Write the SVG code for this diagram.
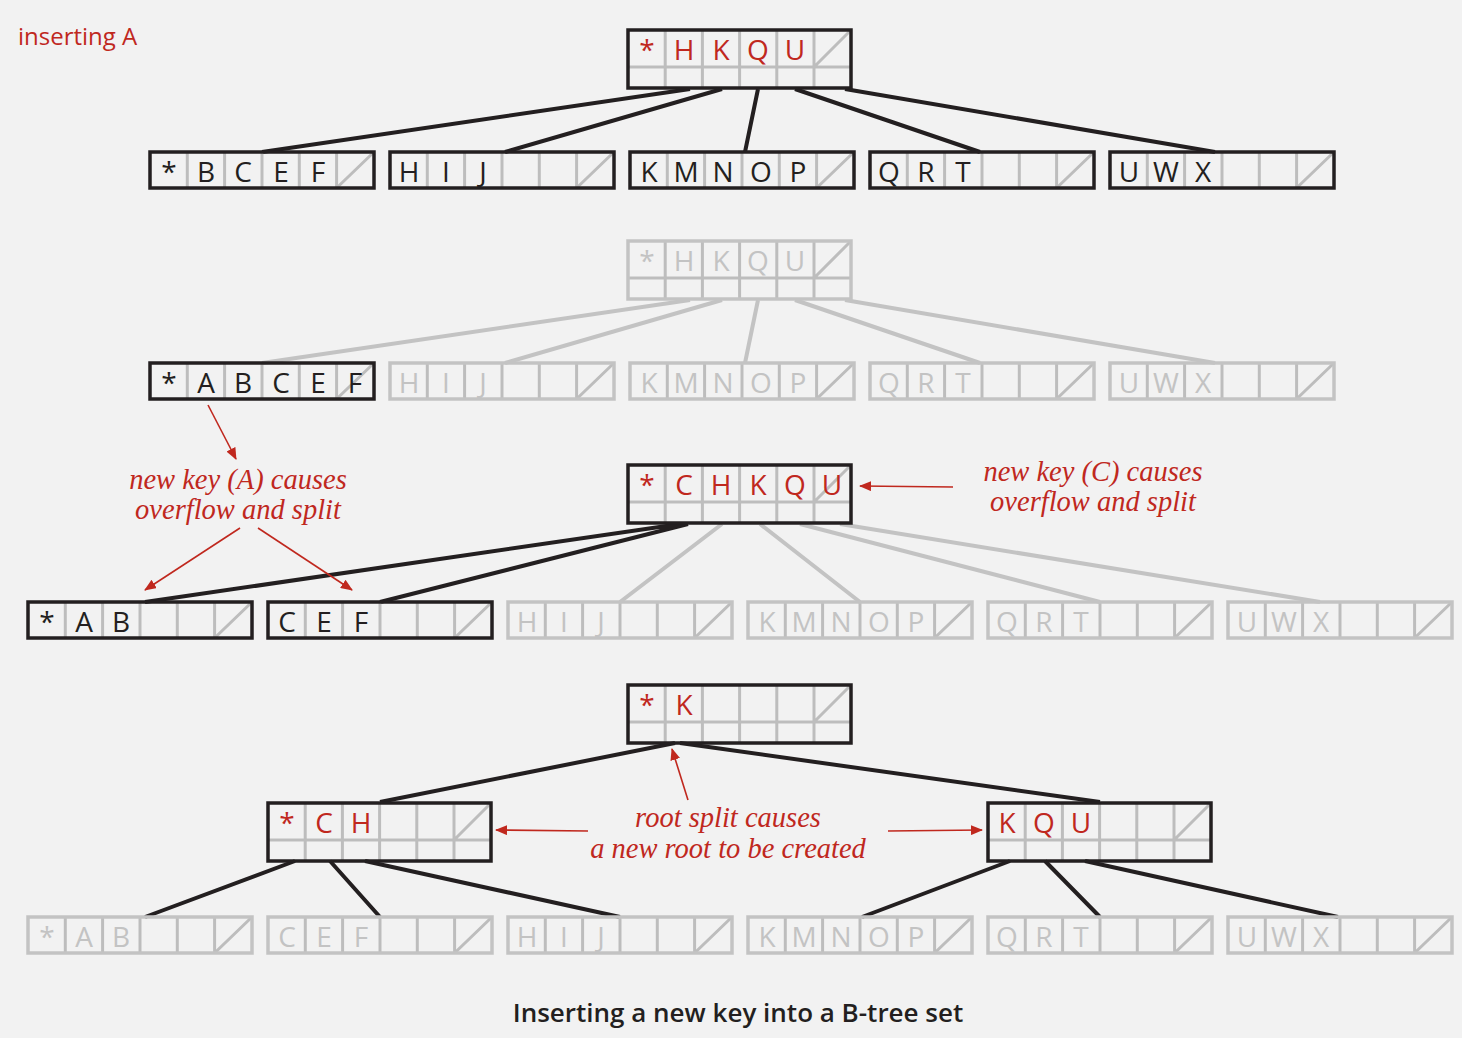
<svg xmlns="http://www.w3.org/2000/svg" xmlns:xlink="http://www.w3.org/1999/xlink" width="1462" height="1038" viewBox="0 0 1462 1038">
<style>
.bg{fill:#f2f2f2}
.k{font-family:"Open Sans","Liberation Sans",sans-serif;font-size:28px;text-anchor:middle}
.kb{fill:#231f20}.kr{fill:#c0281e}.kg{fill:#c3c3c3}
.note{font-family:"Liberation Serif",serif;font-style:italic;font-size:28.5px;fill:#c0281e;text-anchor:middle}
.dark{color:#231f20}.gray{color:#c3c3c3}
.cb{stroke:#231f20;stroke-width:4;fill:none}
.cg{stroke:#c3c3c3;stroke-width:4;fill:none}
.ar{stroke:#c0281e;stroke-width:1.6;fill:none;marker-end:url(#ah)}
</style>
<defs>
<marker id="ah" markerWidth="12" markerHeight="10" refX="11" refY="5" orient="auto" markerUnits="userSpaceOnUse"><path d="M0,0 L12,5 L0,10 Z" fill="#c0281e"/></marker>
<g id="leaf">
<path d="M37.3,0V36M74.6,0V36M112,0V36M149.3,0V36M186.6,0V36M186.6,36L224,0" stroke="#bdbdbd" stroke-width="3" fill="none"/>
<rect x="0" y="0" width="224" height="36" fill="none" stroke="currentColor" stroke-width="3.5"/>
</g>
<g id="inode">
<path d="M37.2,0V58M74.4,0V58M111.6,0V58M148.8,0V58M186,0V58M0,37H223M186,37L223,0" stroke="#bdbdbd" stroke-width="3" fill="none"/>
<rect x="0" y="0" width="223" height="58" fill="none" stroke="currentColor" stroke-width="3.5"/>
</g>
</defs>
<rect class="bg" x="0" y="0" width="1462" height="1038"/>
<text x="18" y="45" font-family="Open Sans,Liberation Sans,sans-serif" font-size="24" fill="#c0281e">inserting A</text>

<g id="connectors">
<path class="cb" d="M690,89L262,152M722,89L505,152M758,89L745,152M795,89L980,152M845,89L1215,152"/>
<path class="cg" d="M690,300L262,363M722,300L505,363M758,300L745,363M795,300L980,363M845,300L1215,363"/>
<path class="cb" d="M680,524L145,602M688,524L380,602"/>
<path class="cg" d="M722,524L620,602M760,524L860,602M800,524L1100,602M840,524L1320,602"/>
<path class="cb" d="M675,743L380,802M680,743L1100,802"/>
<path class="cb" d="M295,861L145,917M330,861L380,917M365,861L620,917M1010,861L862,917M1045,861L1100,917M1085,861L1338,917"/>
<path class="ar" d="M208,405L236,459"/>
<path class="ar" d="M240,528L145,590"/>
<path class="ar" d="M258,528L352,590"/>
<path class="ar" d="M953,487L860,486"/>
<path class="ar" d="M688,800L672,749"/>
<path class="ar" d="M588,831L496,830"/>
<path class="ar" d="M888,831L982,830"/>
</g>

<g id="r1root"><use href="#inode" x="628" y="30" class="dark"/>
<text class="k kr" y="60"><tspan x="647">*</tspan><tspan x="684">H</tspan><tspan x="721">K</tspan><tspan x="758">Q</tspan><tspan x="795">U</tspan></text></g>
<g id="r1l1"><use href="#leaf" x="150" y="152" class="dark"/><text class="k kb" y="182"><tspan x="169">*</tspan><tspan x="206">B</tspan><tspan x="243">C</tspan><tspan x="281">E</tspan><tspan x="318">F</tspan></text></g>
<g id="r1l2"><use href="#leaf" x="390" y="152" class="dark"/><text class="k kb" y="182"><tspan x="409">H</tspan><tspan x="446">I</tspan><tspan x="483">J</tspan></text></g>
<g id="r1l3"><use href="#leaf" x="630" y="152" class="dark"/><text class="k kb" y="182"><tspan x="649">K</tspan><tspan x="686">M</tspan><tspan x="723">N</tspan><tspan x="761">O</tspan><tspan x="798">P</tspan></text></g>
<g id="r1l4"><use href="#leaf" x="870" y="152" class="dark"/><text class="k kb" y="182"><tspan x="889">Q</tspan><tspan x="926">R</tspan><tspan x="963">T</tspan></text></g>
<g id="r1l5"><use href="#leaf" x="1110" y="152" class="dark"/><text class="k kb" y="182"><tspan x="1129">U</tspan><tspan x="1166">W</tspan><tspan x="1203">X</tspan></text></g>

<g id="r2root"><use href="#inode" x="628" y="241" class="gray"/>
<text class="k kg" y="271"><tspan x="647">*</tspan><tspan x="684">H</tspan><tspan x="721">K</tspan><tspan x="758">Q</tspan><tspan x="795">U</tspan></text></g>
<g id="r2l1"><use href="#leaf" x="150" y="363" class="dark"/><text class="k kb" y="393"><tspan x="169">*</tspan><tspan x="206">A</tspan><tspan x="243">B</tspan><tspan x="281">C</tspan><tspan x="318">E</tspan><tspan x="355">F</tspan></text></g>
<g id="r2l2"><use href="#leaf" x="390" y="363" class="gray"/><text class="k kg" y="393"><tspan x="409">H</tspan><tspan x="446">I</tspan><tspan x="483">J</tspan></text></g>
<g id="r2l3"><use href="#leaf" x="630" y="363" class="gray"/><text class="k kg" y="393"><tspan x="649">K</tspan><tspan x="686">M</tspan><tspan x="723">N</tspan><tspan x="761">O</tspan><tspan x="798">P</tspan></text></g>
<g id="r2l4"><use href="#leaf" x="870" y="363" class="gray"/><text class="k kg" y="393"><tspan x="889">Q</tspan><tspan x="926">R</tspan><tspan x="963">T</tspan></text></g>
<g id="r2l5"><use href="#leaf" x="1110" y="363" class="gray"/><text class="k kg" y="393"><tspan x="1129">U</tspan><tspan x="1166">W</tspan><tspan x="1203">X</tspan></text></g>

<g id="r3root"><use href="#inode" x="628" y="465" class="dark"/>
<text class="k kr" y="495"><tspan x="647">*</tspan><tspan x="684">C</tspan><tspan x="721">H</tspan><tspan x="758">K</tspan><tspan x="795">Q</tspan><tspan x="832">U</tspan></text></g>
<g id="r3l1"><use href="#leaf" x="28" y="602" class="dark"/><text class="k kb" y="632"><tspan x="47">*</tspan><tspan x="84">A</tspan><tspan x="121">B</tspan></text></g>
<g id="r3l2"><use href="#leaf" x="268" y="602" class="dark"/><text class="k kb" y="632"><tspan x="287">C</tspan><tspan x="324">E</tspan><tspan x="361">F</tspan></text></g>
<g id="r3l3"><use href="#leaf" x="508" y="602" class="gray"/><text class="k kg" y="632"><tspan x="527">H</tspan><tspan x="564">I</tspan><tspan x="601">J</tspan></text></g>
<g id="r3l4"><use href="#leaf" x="748" y="602" class="gray"/><text class="k kg" y="632"><tspan x="767">K</tspan><tspan x="804">M</tspan><tspan x="841">N</tspan><tspan x="879">O</tspan><tspan x="916">P</tspan></text></g>
<g id="r3l5"><use href="#leaf" x="988" y="602" class="gray"/><text class="k kg" y="632"><tspan x="1007">Q</tspan><tspan x="1044">R</tspan><tspan x="1081">T</tspan></text></g>
<g id="r3l6"><use href="#leaf" x="1228" y="602" class="gray"/><text class="k kg" y="632"><tspan x="1247">U</tspan><tspan x="1284">W</tspan><tspan x="1321">X</tspan></text></g>

<g id="r4root"><use href="#inode" x="628" y="685" class="dark"/>
<text class="k kr" y="715"><tspan x="647">*</tspan><tspan x="684">K</tspan></text></g>
<g id="r4n1"><use href="#inode" x="268" y="803" class="dark"/>
<text class="k kr" y="833"><tspan x="287">*</tspan><tspan x="324">C</tspan><tspan x="361">H</tspan></text></g>
<g id="r4n2"><use href="#inode" x="988" y="803" class="dark"/>
<text class="k kr" y="833"><tspan x="1007">K</tspan><tspan x="1044">Q</tspan><tspan x="1081">U</tspan></text></g>
<g id="r4l1"><use href="#leaf" x="28" y="917" class="gray"/><text class="k kg" y="947"><tspan x="47">*</tspan><tspan x="84">A</tspan><tspan x="121">B</tspan></text></g>
<g id="r4l2"><use href="#leaf" x="268" y="917" class="gray"/><text class="k kg" y="947"><tspan x="287">C</tspan><tspan x="324">E</tspan><tspan x="361">F</tspan></text></g>
<g id="r4l3"><use href="#leaf" x="508" y="917" class="gray"/><text class="k kg" y="947"><tspan x="527">H</tspan><tspan x="564">I</tspan><tspan x="601">J</tspan></text></g>
<g id="r4l4"><use href="#leaf" x="748" y="917" class="gray"/><text class="k kg" y="947"><tspan x="767">K</tspan><tspan x="804">M</tspan><tspan x="841">N</tspan><tspan x="879">O</tspan><tspan x="916">P</tspan></text></g>
<g id="r4l5"><use href="#leaf" x="988" y="917" class="gray"/><text class="k kg" y="947"><tspan x="1007">Q</tspan><tspan x="1044">R</tspan><tspan x="1081">T</tspan></text></g>
<g id="r4l6"><use href="#leaf" x="1228" y="917" class="gray"/><text class="k kg" y="947"><tspan x="1247">U</tspan><tspan x="1284">W</tspan><tspan x="1321">X</tspan></text></g>

<text class="note" x="238" y="489">new key (A) causes</text>
<text class="note" x="238" y="519">overflow and split</text>
<text class="note" x="1093" y="481">new key (C) causes</text>
<text class="note" x="1093" y="511">overflow and split</text>
<text class="note" x="728" y="827">root split causes</text>
<text class="note" x="728" y="858">a new root to be created</text>
<text x="738" y="1022" font-family="Open Sans,Liberation Sans,sans-serif" font-size="26" font-weight="600" fill="#231f20" text-anchor="middle">Inserting a new key into a B-tree set</text>
</svg>
